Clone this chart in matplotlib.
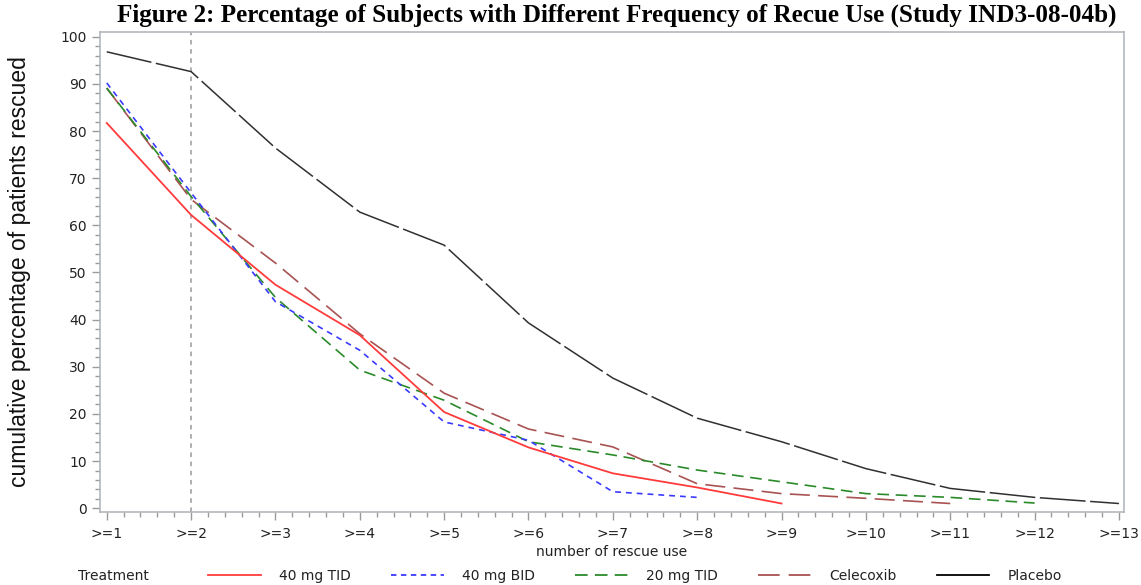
import matplotlib
matplotlib.use("Agg")
import matplotlib.pyplot as plt
from matplotlib.lines import Line2D
from matplotlib.ticker import MultipleLocator
from matplotlib import font_manager

categories = ['>=1', '>=2', '>=3', '>=4', '>=5', '>=6', '>=7', '>=8', '>=9',
              '>=10', '>=11', '>=12', '>=13']
tid40 = [81.7, 62.2, 47.4, 36.7, 20.4, 12.9, 7.4, 4.4, 1.0]
bid40 = [90.2, 66.9, 43.8, 33.5, 18.3, 14.4, 3.5, 2.3]
tid20 = [89.1, 66.1, 44.7, 29.3, 22.9, 14.1, 11.3, 8.1, 5.6, 3.1, 2.3, 1.1]
celecoxib = [89.1, 65.5, 52.0, 37.0, 24.4, 16.8, 13.0, 5.2, 3.1, 2.1, 1.0]
placebo = [96.8, 92.6, 76.4, 62.8, 55.8, 39.3, 27.6, 19.1, 14.1, 8.4, 4.2, 2.3, 1.0]
series_names = ['40 mg TID', '40 mg BID', '20 mg TID', 'Celecoxib', 'Placebo']

names = {f.name for f in font_manager.fontManager.ttflist}
narrow = 'Liberation Sans Narrow' if 'Liberation Sans Narrow' in names else 'Liberation Sans'

plt.rcParams['font.family'] = ['DejaVu Sans']

fig = plt.figure(figsize=(11.41, 5.85), dpi=100)
ax = fig.add_axes([100/1141, 1-512/585, (1124-100)/1141, (512-32)/585])

x = list(range(1, len(categories) + 1))
c_red, c_blue, c_green, c_brown, c_black = '#ff3b3b', '#3a3aff', '#2a8a2a', '#a85252', '#303030'

ax.axvline(2, color='#9a9a9a', lw=1.1, ls=(0, (3, 3)), zorder=1)
ax.plot(x[:len(placebo)], placebo, color=c_black, lw=1.1, ls=(0, (30, 3)))
ax.plot(x[:len(celecoxib)], celecoxib, color=c_brown, lw=1.2, ls=(0, (12, 5)))
ax.plot(x[:len(tid20)], tid20, color=c_green, lw=1.2, ls=(0, (7, 4)))
ax.plot(x[:len(bid40)], bid40, color=c_blue, lw=1.2, ls=(0, (3.5, 3)))
ax.plot(x[:len(tid40)], tid40, color=c_red, lw=1.3, ls='-')

ax.set_xlim(0.92, 13.06)
ax.set_ylim(-0.8, 101.0)
ax.set_xticks(x)
ax.set_xticklabels(categories)
ax.xaxis.set_minor_locator(MultipleLocator(0.2))
ax.yaxis.set_major_locator(MultipleLocator(10))
ax.yaxis.set_minor_locator(MultipleLocator(2))

for s in ax.spines.values():
    s.set_color('#b4b8bc')
    s.set_linewidth(1.2)
ax.tick_params(axis='both', which='major', colors='#9a9a9a', labelcolor='#222222',
               labelsize=10, length=6, width=1)
ax.tick_params(axis='both', which='minor', colors='#9a9a9a', length=3.5, width=1)
ax.tick_params(axis='x', which='both', pad=5)

ax.set_xlabel('number of rescue use', fontsize=10, color='#222222', labelpad=3)
ax.set_ylabel('cumulative percentage of patients rescued', fontsize=16.5,
              family=[narrow, 'DejaVu Sans'], color='#111111')
ax.yaxis.set_label_coords(-0.067, 0.5)

fig.text(617/1141, 1-15/585, 'Figure 2: Percentage of Subjects with Different Frequency of Recue Use (Study IND3-08-04b)',
         ha='center', va='center', fontsize=18.1, fontweight='bold',
         family=['Liberation Serif', 'DejaVu Serif'], color='black')

handles = [
    Line2D([], [], color=c_red, lw=1.3, ls='-'),
    Line2D([], [], color=c_blue, lw=1.3, ls=(0, (3, 2.5))),
    Line2D([], [], color=c_green, lw=1.3, ls=(0, (7, 4))),
    Line2D([], [], color=c_brown, lw=1.3, ls=(0, (12, 5))),
    Line2D([], [], color='black', lw=1.3, ls='-'),
]
fig.text(78/1141, 1-576/585, 'Treatment', ha='left', va='center', fontsize=10, color='#222222')
leg = fig.legend(handles, series_names, loc='center', bbox_to_anchor=(635/1141, 1-576/585),
                 ncol=5, frameon=False, fontsize=10, handlelength=3.8, handletextpad=1.3,
                 columnspacing=2.9, borderpad=0)
for t in leg.get_texts():
    t.set_color('#222222')

fig.savefig('out.png', dpi=100)
